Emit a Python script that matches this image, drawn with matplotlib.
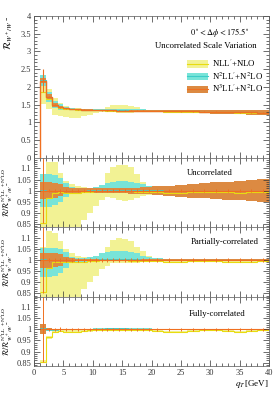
import matplotlib
matplotlib.use("Agg")
import matplotlib.pyplot as plt
from matplotlib.lines import Line2D
from matplotlib.patches import Patch
from matplotlib.ticker import FuncFormatter, MultipleLocator
import numpy as np

plt.rcParams["font.family"] = ["Liberation Serif", "DejaVu Serif"]
plt.rcParams["mathtext.fontset"] = "stix"

# --- data -------------------------------------------------------------
edges = [1, 2, 3, 4, 5, 6, 7, 8, 9, 10, 11, 12, 13, 14, 15, 16, 17, 18, 19, 20,
         22, 24, 26, 28, 30, 32, 34, 36, 38, 40]

# N3LL'+N2LO central value and stat. error
n3ll_central = [2.18, 1.72, 1.50, 1.43, 1.40, 1.38, 1.37, 1.36, 1.355, 1.35, 1.345, 1.34, 1.34,
                1.335, 1.335, 1.33, 1.33, 1.33, 1.325, 1.32, 1.32, 1.315, 1.31, 1.305, 1.30,
                1.295, 1.29, 1.285, 1.28]
n3ll_stat = [0.32, 0.014, 0.012, 0.012, 0.011, 0.011, 0.011, 0.010, 0.010, 0.010, 0.010, 0.010,
             0.010, 0.010, 0.010, 0.010, 0.010, 0.010, 0.010, 0.010, 0.010, 0.010, 0.010, 0.010,
             0.010, 0.010, 0.010, 0.010, 0.010]

# central values of lower orders, relative to N3LL'
nll_ratio = [0.855, 0.965, 0.99, 0.993, 0.99, 0.99, 0.99, 0.993, 0.995, 0.997, 0.998, 0.998, 0.998,
             0.998, 0.998, 0.997, 0.996, 0.995, 0.995, 0.994, 0.99, 0.99, 0.994, 0.995, 0.995,
             0.992, 0.99, 0.992, 0.995]
n2ll_ratio = [1.004, 0.998, 0.999, 1.0, 1.0, 1.0, 1.0, 1.0, 1.001, 1.002, 1.003, 1.004, 1.004,
              1.004, 1.004, 1.003, 1.003, 1.002, 1.002, 1.001, 1.0, 1.0, 1.0, 1.0, 1.0, 1.0,
              1.0, 1.0, 1.0]

# uncorrelated scale bands (ratio)
unc_nll_lo = [0.70, 0.80, 0.81, 0.82, 0.82, 0.82, 0.83, 0.87, 0.90, 0.93, 0.96, 0.972, 0.965,
              0.96, 0.955, 0.96, 0.968, 0.975, 0.98, 0.985, 0.985, 0.984, 0.985, 0.986, 0.986,
              0.985, 0.984, 0.985, 0.986]
unc_nll_hi = [1.06, 1.13, 1.13, 1.08, 1.045, 1.03, 1.02, 1.015, 1.01, 1.01, 1.02, 1.08, 1.105,
              1.115, 1.115, 1.105, 1.075, 1.04, 1.02, 1.003, 0.998, 0.997, 0.999, 1.0, 1.0,
              0.998, 0.997, 0.998, 1.0]
unc_n2ll_lo = [0.925, 0.925, 0.935, 0.95, 0.97, 0.985, 0.99, 0.993, 0.995, 0.997, 0.998, 0.998,
               0.998, 0.998, 0.998, 0.998, 0.997, 0.996, 0.995, 0.993, 0.99, 0.988, 0.986, 0.984,
               0.982, 0.98, 0.978, 0.976, 0.974]
unc_n2ll_hi = [1.075, 1.075, 1.07, 1.055, 1.035, 1.015, 1.008, 1.006, 1.008, 1.015, 1.025, 1.035,
               1.04, 1.042, 1.042, 1.04, 1.035, 1.028, 1.02, 1.012, 1.012, 1.014, 1.016, 1.018,
               1.02, 1.022, 1.024, 1.026, 1.028]
unc_n3ll_lo = [0.963, 0.963, 0.967, 0.975, 0.985, 0.99, 0.99, 0.99, 0.99, 0.99, 0.99, 0.99, 0.99,
               0.989, 0.988, 0.987, 0.986, 0.985, 0.984, 0.981, 0.977, 0.973, 0.969, 0.966, 0.963,
               0.96, 0.956, 0.952, 0.948]
unc_n3ll_hi = [1.04, 1.04, 1.035, 1.03, 1.015, 1.01, 1.01, 1.01, 1.01, 1.01, 1.01, 1.01, 1.01,
               1.011, 1.012, 1.013, 1.014, 1.015, 1.016, 1.019, 1.023, 1.027, 1.031, 1.034, 1.037,
               1.04, 1.044, 1.048, 1.052]

# partially-correlated bands
par_nll_lo = [0.70, 0.80, 0.81, 0.82, 0.82, 0.82, 0.83, 0.87, 0.90, 0.93, 0.96, 0.975, 0.985,
              0.985, 0.985, 0.985, 0.987, 0.99, 0.99, 0.99, 0.985, 0.986, 0.99, 0.99, 0.99,
              0.988, 0.986, 0.988, 0.99]
par_nll_hi = [1.06, 1.13, 1.12, 1.086, 1.05, 1.03, 1.02, 1.015, 1.01, 1.01, 1.03, 1.06, 1.09,
              1.10, 1.095, 1.085, 1.06, 1.04, 1.02, 1.0, 0.995, 0.995, 0.998, 1.0, 1.0, 0.997,
              0.995, 0.997, 1.0]
par_n2ll_lo = [0.925, 0.925, 0.93, 0.94, 0.965, 0.985, 0.99, 0.993, 0.995, 0.997, 0.998, 0.998,
               0.998, 0.998, 0.998, 0.998, 0.998, 0.998, 0.998, 0.997, 0.997, 0.997, 0.997,
               0.997, 0.997, 0.997, 0.997, 0.997, 0.997]
par_n2ll_hi = [1.056, 1.056, 1.055, 1.05, 1.035, 1.015, 1.01, 1.01, 1.015, 1.02, 1.03, 1.035,
               1.04, 1.04, 1.04, 1.035, 1.03, 1.02, 1.015, 1.008, 1.006, 1.005, 1.005, 1.005,
               1.005, 1.005, 1.005, 1.005, 1.005]
par_n3ll_lo = [0.965, 0.965, 0.968, 0.975, 0.985, 0.992, 0.994, 0.994, 0.994, 0.994, 0.994,
               0.994, 0.994, 0.994, 0.994, 0.994, 0.994, 0.994, 0.994, 0.995, 0.995, 0.995,
               0.995, 0.995, 0.995, 0.995, 0.995, 0.995, 0.995]
par_n3ll_hi = [1.033, 1.033, 1.03, 1.025, 1.015, 1.008, 1.006, 1.006, 1.006, 1.006, 1.006,
               1.006, 1.006, 1.006, 1.006, 1.006, 1.006, 1.006, 1.006, 1.005, 1.005, 1.005,
               1.005, 1.005, 1.005, 1.005, 1.005, 1.005, 1.005]

# fully-correlated bands
full_nll_lo = [0.85, 0.958, 0.985, 0.988, 0.985, 0.985, 0.985, 0.988, 0.99, 0.993, 0.994, 0.994,
               0.994, 0.994, 0.994, 0.993, 0.992, 0.991, 0.991, 0.99, 0.986, 0.986, 0.99, 0.991,
               0.991, 0.988, 0.986, 0.988, 0.991]
full_nll_hi = [0.86, 0.97, 0.995, 0.998, 0.995, 0.995, 0.995, 0.998, 1.0, 1.001, 1.002, 1.002,
               1.002, 1.002, 1.002, 1.001, 1.0, 0.999, 0.999, 0.998, 0.994, 0.994, 0.998, 0.999,
               0.999, 0.996, 0.994, 0.996, 0.999]
full_n2ll_lo = [0.99, 0.995, 0.997, 0.998, 0.998, 0.998, 0.998, 0.998, 0.999, 0.999, 1.0, 1.0,
                1.0, 1.0, 1.0, 1.0, 1.0, 0.999, 0.999, 0.999, 0.998, 0.998, 0.998, 0.998, 0.998,
                0.998, 0.998, 0.998, 0.998]
full_n2ll_hi = [1.015, 1.001, 1.001, 1.002, 1.002, 1.002, 1.002, 1.002, 1.003, 1.004, 1.005,
                1.006, 1.006, 1.006, 1.006, 1.005, 1.005, 1.004, 1.004, 1.003, 1.002, 1.002,
                1.002, 1.002, 1.002, 1.002, 1.002, 1.002, 1.002]
full_n3ll_lo = [0.978, 0.996, 0.997, 0.997, 0.997, 0.997, 0.997, 0.997, 0.997, 0.997, 0.997,
                0.997, 0.997, 0.997, 0.997, 0.997, 0.997, 0.997, 0.997, 0.997, 0.997, 0.997,
                0.997, 0.997, 0.997, 0.997, 0.997, 0.997, 0.997]
full_n3ll_hi = [1.022, 1.004, 1.003, 1.003, 1.003, 1.003, 1.003, 1.003, 1.003, 1.003, 1.003,
                1.003, 1.003, 1.003, 1.003, 1.003, 1.003, 1.003, 1.003, 1.003, 1.003, 1.003,
                1.003, 1.003, 1.003, 1.003, 1.003, 1.003, 1.003]

# --- style ------------------------------------------------------------
YEL_BAND, YEL_LINE = "#f2f294", "#e8dc10"
TEA_BAND, TEA_LINE = "#78e4d8", "#3cccc8"
ORA_BAND, ORA_LINE = "#dc8a42", "#f07020"

W, H = 279, 393
fig = plt.figure(figsize=(W / 100, H / 100), dpi=100)
fig.patch.set_facecolor("white")


def px_axes(top, bottom, left=34, right=269):
    return fig.add_axes([left / W, 1 - bottom / H, (right - left) / W, (bottom - top) / H])


def style_axes(ax, major_y, minor_y):
    ax.set_xlim(0, 40)
    ax.xaxis.set_major_locator(MultipleLocator(5))
    ax.xaxis.set_minor_locator(MultipleLocator(1))
    ax.yaxis.set_major_locator(MultipleLocator(major_y))
    ax.yaxis.set_minor_locator(MultipleLocator(minor_y))
    ax.yaxis.set_major_formatter(FuncFormatter(lambda v, p: f"{v:g}"))
    ax.tick_params(which="both", direction="in", top=True, right=True, labelsize=6,
                   width=0.5, pad=2, colors="#333333")
    ax.tick_params(which="major", length=4)
    ax.tick_params(which="minor", length=2)
    for s in ax.spines.values():
        s.set_linewidth(0.5)
        s.set_color("#555555")


e = np.array(edges, dtype=float)
cen = np.array(n3ll_central)
centers = 0.5 * (e[1:] + e[:-1])

# --- main panel ---------------------------------------------------------
ax0 = px_axes(16, 158)
ax0.stairs(np.array(unc_nll_hi) * cen, e, baseline=np.array(unc_nll_lo) * cen, fill=True,
           color=YEL_BAND, lw=0)
ax0.stairs(np.array(unc_n2ll_hi) * cen, e, baseline=np.array(unc_n2ll_lo) * cen, fill=True,
           color=TEA_BAND, lw=0)
ax0.stairs(np.array(unc_n3ll_hi) * cen, e, baseline=np.array(unc_n3ll_lo) * cen, fill=True,
           color=ORA_BAND, lw=0)
ax0.stairs(np.array(nll_ratio) * cen, e, baseline=None, color=YEL_LINE, lw=0.8)
ax0.stairs(np.array(n2ll_ratio) * cen, e, baseline=None, color=TEA_LINE, lw=0.8)
ax0.stairs(cen, e, baseline=None, color=ORA_LINE, lw=1.0)
ax0.vlines(e[0], 0, cen[0], color=ORA_LINE, lw=1.0)
ax0.errorbar(centers, cen, yerr=n3ll_stat, fmt="none", ecolor=ORA_LINE, elinewidth=0.8)
ax0.set_ylim(0, 4)
style_axes(ax0, 0.5, 0.1)
ax0.tick_params(labelbottom=False)
ax0.set_ylabel(r"$\mathcal{R}_{W^+/W^-}$", fontsize=7, loc="top", labelpad=4)

ax0.text(0.79, 0.885, r"$0^\circ < \Delta\phi < 175.5^\circ$", transform=ax0.transAxes,
         ha="center", va="center", fontsize=6)
ax0.text(0.73, 0.79, "Uncorrelated Scale Variation", transform=ax0.transAxes,
         ha="center", va="center", fontsize=6.3)
handles = [(Patch(facecolor=YEL_BAND, lw=0), Line2D([], [], color=YEL_LINE, lw=0.8)),
           (Patch(facecolor=TEA_BAND, lw=0), Line2D([], [], color=TEA_LINE, lw=0.8)),
           (Patch(facecolor=ORA_BAND, lw=0), Line2D([], [], color=ORA_LINE, lw=0.8))]
labels = [r"NLL$'$+NLO", r"N$^2$LL$'$+N$^2$LO", r"N$^3$LL$'$+N$^2$LO"]
ax0.legend(handles, labels, loc="upper right", bbox_to_anchor=(1.0, 0.75), fontsize=6.3,
           frameon=False, handlelength=2.4, handleheight=0.9, handletextpad=0.4,
           labelspacing=0.15, borderpad=0.2)

# --- ratio panels ---------------------------------------------------------
panels = [
    ("Uncorrelated", unc_nll_lo, unc_nll_hi, unc_n2ll_lo, unc_n2ll_hi, unc_n3ll_lo, unc_n3ll_hi,
     (0.75, 0.79)),
    ("Partially-correlated", par_nll_lo, par_nll_hi, par_n2ll_lo, par_n2ll_hi, par_n3ll_lo,
     par_n3ll_hi, (0.81, 0.79)),
    ("Fully-correlated", full_nll_lo, full_nll_hi, full_n2ll_lo, full_n2ll_hi, full_n3ll_lo,
     full_n3ll_hi, (0.78, 0.75)),
]
bounds = [(158, 227.3), (227.3, 296.7), (296.7, 366)]
rstat = np.array(n3ll_stat) / cen

for (name, yl, yh, tl, th, ol, oh, pos), (top, bot) in zip(panels, bounds):
    ax = px_axes(top, bot)
    ax.stairs(yh, e, baseline=yl, fill=True, color=YEL_BAND, lw=0)
    ax.stairs(th, e, baseline=tl, fill=True, color=TEA_BAND, lw=0)
    ax.stairs(oh, e, baseline=ol, fill=True, color=ORA_BAND, lw=0)
    ax.stairs(nll_ratio, e, baseline=None, color=YEL_LINE, lw=0.8)
    ax.stairs(n2ll_ratio, e, baseline=None, color=TEA_LINE, lw=0.6)
    ax.stairs(np.ones(len(cen)), e, baseline=None, color=ORA_LINE, lw=0.8)
    ax.errorbar(centers, np.ones(len(cen)), yerr=rstat, fmt="none", ecolor=ORA_LINE,
                elinewidth=0.7)
    ax.set_ylim(0.835, 1.147)
    style_axes(ax, 0.05, 0.01)
    ax.text(pos[0], pos[1], name, transform=ax.transAxes, ha="center", va="center",
            fontsize=6.3)
    ax.set_ylabel(r"$\mathcal{R}/\mathcal{R}^{\mathrm{N^3LL'+N^2LO}}_{W^+/W^-}$", fontsize=5.5,
                  labelpad=1)
    if name != "Fully-correlated":
        ax.tick_params(labelbottom=False)
    else:
        ax.set_xlabel(r"$q_T\,$[GeV]", fontsize=6.5, loc="right", labelpad=1)

fig.savefig("out.png", dpi=100, facecolor="white")
